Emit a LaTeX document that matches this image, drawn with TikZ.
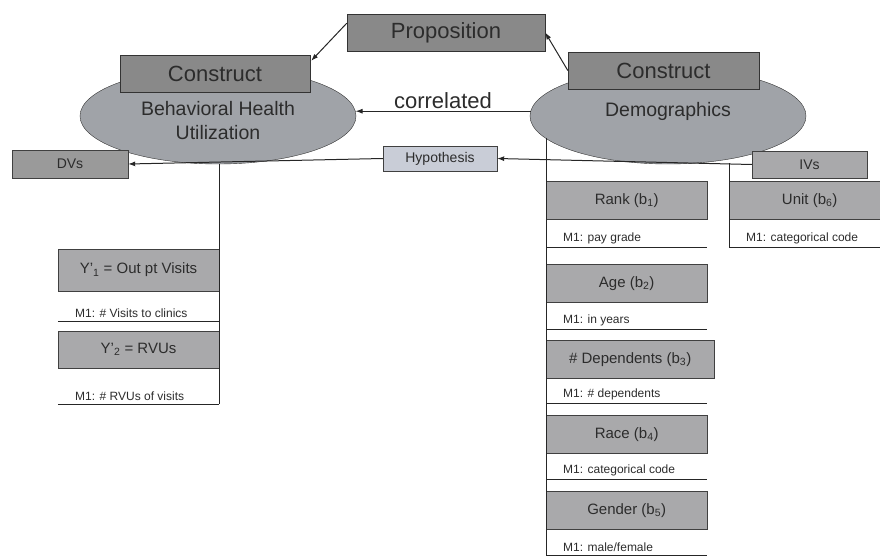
\documentclass[tikz,border=0pt]{standalone}
\usepackage{fontspec}
\setmainfont{Liberation Sans}
\usetikzlibrary{arrows.meta,shapes.geometric,positioning,calc}
\definecolor{darkfill}{HTML}{898989}
\definecolor{ellfill}{HTML}{A0A3A8}
\definecolor{boxfill}{HTML}{A9A9AB}
\definecolor{dvfill}{HTML}{9A9A9A}
\definecolor{hypfill}{HTML}{C9CDD7}
\definecolor{inkgray}{HTML}{2C2C2C}

\begin{document}
\begin{tikzpicture}[x=1pt,y=-1pt,
    every node/.style={text=inkgray},
    bigbox/.style={draw=black!80,fill=darkfill,minimum height=37pt,inner sep=0pt,font=\fontsize{22}{26}\selectfont},
    ell/.style={ellipse,draw=black!80,fill=ellfill,minimum width=276pt,minimum height=96pt,align=center,font=\fontsize{19.5}{24}\selectfont},
    varbox/.style={draw=black!75,fill=boxfill,minimum width=161pt,minimum height=38pt,inner sep=0pt,font=\fontsize{15}{18}\selectfont},
    tagbox/.style={draw=black!75,fill=#1,minimum width=115pt,minimum height=27pt,inner sep=0pt,font=\fontsize{14}{16}\selectfont},
    mtext/.style={anchor=south west,inner xsep=0pt,inner ysep=3pt,font=\fontsize{12}{14}\selectfont},
    link/.style={draw=black!85,line width=1pt,-{Latex[length=7pt,width=5pt]}},
    rule/.style={draw=black!85,line width=1pt}]
    \clip (0,0) rectangle (880,556);

    % the two constructs
    \node [ell] (lell) at (218,116) {\\Behavioral Health\\Utilization};
    \node [ell, text depth=14pt] (rell) at (668,116) {Demographics};
    \node [bigbox, minimum width=190pt] (lcon) at (215,73.5)  {Construct};
    \node [bigbox, minimum width=191pt] (rcon) at (663.5,70.5) {Construct};
    \node [bigbox, minimum width=198pt] (prop) at (446,32.5)  {Proposition};

    \draw [link] ($(prop.north west)!0.25!(prop.south west)$) -- ([xshift=1pt,yshift=-6pt]lcon.north east);
    \draw [link] (rcon.west) -- (prop.east);
    \draw [link] (rell.178) -- node [above, inner sep=2pt, font=\fontsize{22}{26}\selectfont] {correlated} (lell.2);

    % measures, left side
    \node [varbox, minimum height=42pt] (y1) at (138.5,270)   {Y'\textsubscript{1} = Out pt Visits};
    \node [mtext] (my1) at (75,321) {M1: \# Visits to clinics};
    \node [varbox, minimum height=37pt] (y2) at (138.5,349.5) {Y'\textsubscript{2} = RVUs};
    \node [mtext] (my2) at (75,404) {M1: \# RVUs of visits};
    \draw [rule] (y1.west |- my1.south) -- (y1.east |- my1.south);
    \draw [rule] (y2.west |- my2.south) -- (y2.east |- my2.south);
    \draw [rule] (y1.east |- lell.south) -- (y1.east |- my2.south);

    % measures, right side
    \foreach \nm/\txt/\mtxt/\ytop/\yline/\bw in {
        rank/{Rank (b\textsubscript{1})}/{M1: pay grade}/181/247/161,
        age/{Age (b\textsubscript{2})}/{M1: in years}/264/329/161,
        dep/{\# Dependents (b\textsubscript{3})}/{M1: \# dependents}/340/403/168,
        race/{Race (b\textsubscript{4})}/{M1: categorical code}/415/479/161,
        gender/{Gender (b\textsubscript{5})}/{M1: male/female}/491/555/161}
    {
        \node [varbox, minimum width=\bw pt, anchor=north west] (\nm) at (546,\ytop) {\txt};
        \node [mtext] (m\nm) at (563,\yline) {\mtxt};
        \draw [rule] (\nm.west |- m\nm.south) -- ++(161,0);
    }
    \node [varbox, anchor=north west] (unit) at (729,181) {Unit (b\textsubscript{6})};
    \node [mtext] (munit) at (746,247) {M1: categorical code};
    \draw [rule] (unit.west |- munit.south) -- (unit.east |- munit.south);

    \draw [rule] (rank.west |- rell.190) -- (rank.west |- mgender.south);
    \draw [rule] (unit.west |- rell.-60) -- (unit.west |- munit.south);

    % DVs, IVs and the hypothesis
    \node [tagbox=dvfill, minimum width=116pt, minimum height=28pt] (dvs) at (70,164) {DVs};
    \node [tagbox=boxfill] (ivs) at (809.5,164.5) {IVs};
    \node [tagbox=hypfill, minimum width=114pt, minimum height=25pt] (hyp) at (440,158.5) {Hypothesis};

    \draw [link] (ivs.west) -- (hyp.east);
    \draw [link] (hyp.west) -- (dvs.east);
\end{tikzpicture}
\end{document}
